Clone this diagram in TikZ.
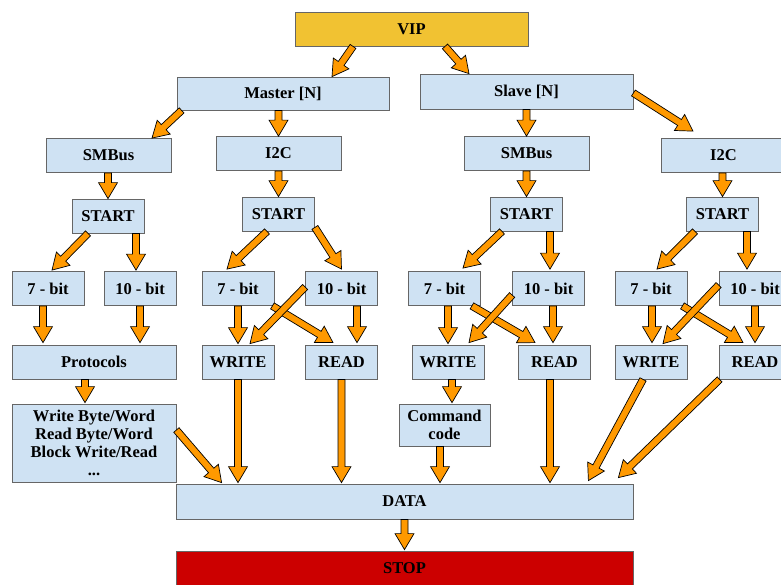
\documentclass[tikz,border=0pt]{standalone}
\usepackage{fontspec}
\setmainfont{Liberation Serif}
\usetikzlibrary{calc}
\definecolor{boxblue}{HTML}{CFE2F3}
\definecolor{vipgold}{HTML}{F1C232}
\definecolor{stopred}{HTML}{CC0000}
\definecolor{arroworange}{HTML}{FF9900}
\tikzset{
  box/.style={draw=black!60, line width=0.8pt, fill=boxblue, inner sep=0pt,
    minimum height=34pt, align=center, font=\fontsize{16.5}{18}\selectfont\bfseries},
  bitbox/.style={box, minimum width=72pt},
  fleche/.style={draw=black, fill=arroworange, line width=0.7pt, line join=miter,
    to path={
      ($(\tikztostart)!3.5pt!90:(\tikztotarget)$)
      -- ($($(\tikztotarget)!16pt!(\tikztostart)$)!3.5pt!90:(\tikztotarget)$)
      -- ($($(\tikztotarget)!16pt!(\tikztostart)$)!9.5pt!90:(\tikztotarget)$)
      -- (\tikztotarget)
      -- ($($(\tikztotarget)!16pt!(\tikztostart)$)!9.5pt!-90:(\tikztotarget)$)
      -- ($($(\tikztotarget)!16pt!(\tikztostart)$)!3.5pt!-90:(\tikztotarget)$)
      -- ($(\tikztostart)!3.5pt!-90:(\tikztotarget)$)
      -- cycle}}
}
\begin{document}
\begin{tikzpicture}[x=1pt,y=-1pt] % une unite = un pixel de l'image
\clip (0,0) rectangle (781,584);

\node[box,fill=vipgold,minimum width=233pt] (VIP) at (411.5,29) {VIP};
\node[box,minimum width=212pt,minimum height=33pt] (M) at (283,93.5) {Master [N]};
\node[box,minimum width=213pt,minimum height=35pt] (S) at (526.5,91.5) {Slave [N]};

\node[box,minimum width=125pt] (M1) at (108.5,155.5) {SMBus};
\node[box,minimum width=125pt] (M2) at (278.5,153.5) {I2C};
\node[box,minimum width=125pt] (S1) at (526.5,153.5) {SMBus};
\node[box,minimum width=125pt] (S2) at (723.5,155.5) {I2C};

\node[bitbox] (M1s) at (108,216) {START};
\node[bitbox] (M2s) at (278.5,214) {START};
\node[bitbox] (S1s) at (526.5,214) {START};
\node[bitbox] (S2s) at (722.5,214) {START};

\node[bitbox] (M1a) at (48,288.5) {7 - bit};
\node[bitbox] (M1b) at (140,288.5) {10 - bit};
\node[bitbox] (M2a) at (238,288.5) {7 - bit};
\node[bitbox] (M2b) at (341.5,288.5) {10 - bit};
\node[bitbox] (S1a) at (444.5,288.5) {7 - bit};
\node[bitbox] (S1b) at (548.5,288.5) {10 - bit};
\node[bitbox] (S2a) at (651,288.5) {7 - bit};
\node[bitbox] (S2b) at (755,288.5) {10 - bit};

\node[box,minimum width=164pt] (M1p) at (94,362) {Protocols};
\node[bitbox] (M2w) at (238,362) {WRITE};
\node[bitbox] (M2r) at (341.5,362) {READ};
\node[bitbox] (S1w) at (448,362) {WRITE};
\node[bitbox] (S1r) at (554.5,362) {READ};
\node[bitbox] (S2w) at (651,362) {WRITE};
\node[bitbox] (S2r) at (755,362) {READ};

\node[box,minimum width=164pt,minimum height=78pt] (M1l) at (94,443)
  {Write Byte/Word\\Read Byte/Word\\Block Write/Read\\...};
\node[box,minimum width=91pt,minimum height=42pt] (S1c) at (444.5,425) {Command\\code};

\node[box,minimum width=457pt,minimum height=35pt] (D) at (404.5,501.5) {DATA};
\node[box,fill=stopred,minimum width=457pt,minimum height=35pt] (X) at (404.5,568.5) {STOP};

% VIP et maitre / esclave
\draw[fleche] ([xshift=-58.5pt]VIP.south) to ([xshift=49pt]M.north);
\draw[fleche] ([xshift=33.5pt]VIP.south) to ([xshift=-57.5pt]S.north);
\draw[fleche] ([xshift=5pt]M.south west) to ([xshift=43.5pt]M1.north);
\draw[fleche] (M2.north |- M.south) to (M2.north);
\draw[fleche] (S1.north |- S.south) to (S1.north);
\draw[fleche] ([yshift=-1.5pt]S.east) to ([xshift=-30.5pt,yshift=7pt]S2.north);

% START
\draw[fleche] (M1s.north |- M1.south) to (M1s.north);
\draw[fleche] (M2s.north |- M2.south) to (M2s.north);
\draw[fleche] (S1s.north |- S1.south) to (S1s.north);
\draw[fleche] (S2s.north |- S2.south) to (S2s.north);

% adresses
\draw[fleche] ([xshift=-20pt]M1s.south) to ([xshift=4pt,yshift=1pt]M1a.north);
\draw[fleche] ([xshift=-4pt]M1b.north |- M1s.south) to ([xshift=-4pt,yshift=1pt]M1b.north);
\draw[fleche] ([xshift=-11.5pt]M2s.south) to ([xshift=-11pt,yshift=2pt]M2a.north);
\draw[fleche] ([yshift=4pt]M2s.south east) to ([yshift=2pt]M2b.north);
\draw[fleche] ([xshift=-24.5pt]S1s.south) to ([xshift=18.5pt,yshift=3pt]S1a.north);
\draw[fleche] ([xshift=1.5pt]S1b.north |- S1s.south) to ([xshift=1.5pt,yshift=2pt]S1b.north);
\draw[fleche] ([xshift=-27.5pt]S2s.south) to ([xshift=6pt,yshift=2pt]S2a.north);
\draw[fleche] ([xshift=-8pt]S2b.north |- S2s.south) to ([xshift=-8pt,yshift=2pt]S2b.north);

% vers protocoles, WRITE, READ
\draw[fleche] ([xshift=-5pt]M1a.south) to ([xshift=-5pt,yshift=2pt]M1a.south |- M1p.north);
\draw[fleche] (M1b.south) to ([yshift=2pt]M1b.south |- M1p.north);
\draw[fleche] (M2a.south) to ([yshift=1pt]M2w.north);
\draw[fleche] ([xshift=-2pt]M2a.south east) to ([xshift=-8.5pt,yshift=2pt]M2r.north);
\draw[fleche] ([yshift=1.5pt]M2b.west) to ([xshift=12pt,yshift=1pt]M2w.north);
\draw[fleche] ([xshift=15.5pt]M2b.south) to ([xshift=15.5pt,yshift=2pt]M2r.north);
\draw[fleche] (S1w.north |- S1a.south) to ([yshift=1pt]S1w.north);
\draw[fleche] ([xshift=-9pt]S1a.south east) to ([xshift=-19.5pt,yshift=2pt]S1r.north);
\draw[fleche] ([yshift=-6.5pt]S1b.west) to ([xshift=21pt,yshift=2pt]S1w.north);
\draw[fleche] ([xshift=-1.5pt]S1r.north |- S1b.south) to ([xshift=-1.5pt,yshift=2pt]S1r.north);
\draw[fleche] ([xshift=1pt]S2a.south) to ([xshift=1pt,yshift=2pt]S2w.north);
\draw[fleche] ([xshift=-5pt]S2a.south east) to ([xshift=-12pt,yshift=2pt]S2r.north);
\draw[fleche] ([yshift=3.5pt]S2b.west) to ([xshift=12pt,yshift=1pt]S2w.north);
\draw[fleche] (S2b.south) to ([yshift=2pt]S2r.north);

% vers DATA
\draw[fleche] ([xshift=-9pt]M1p.south) to ([xshift=-9pt,yshift=1pt]M1l.north);
\draw[fleche] ([yshift=13pt]M1l.east) to ([xshift=46pt,yshift=1pt]D.north west);
\draw[fleche] (M2w.south) to ([yshift=1pt]M2w.south |- D.north);
\draw[fleche] (M2r.south) to ([yshift=1pt]M2r.south |- D.north);
\draw[fleche] ([xshift=4pt]S1w.south) to ([xshift=7.5pt,yshift=1pt]S1c.north);
\draw[fleche] ([xshift=-4.5pt]S1c.south) to ([xshift=-4.5pt,yshift=1pt]S1c.south |- D.north);
\draw[fleche] ([xshift=-4.5pt]S1r.south) to ([xshift=-4.5pt,yshift=1pt]S1r.south |- D.north);
\draw[fleche] ([xshift=-8pt]S2w.south) to ([xshift=-45pt,yshift=3pt]D.north east);
\draw[fleche] ([xshift=1pt]S2r.south west) to ([xshift=-15pt,yshift=6pt]D.north east);

\draw[fleche] (D.south) to ([yshift=1pt]X.north);
\end{tikzpicture}
\end{document}
